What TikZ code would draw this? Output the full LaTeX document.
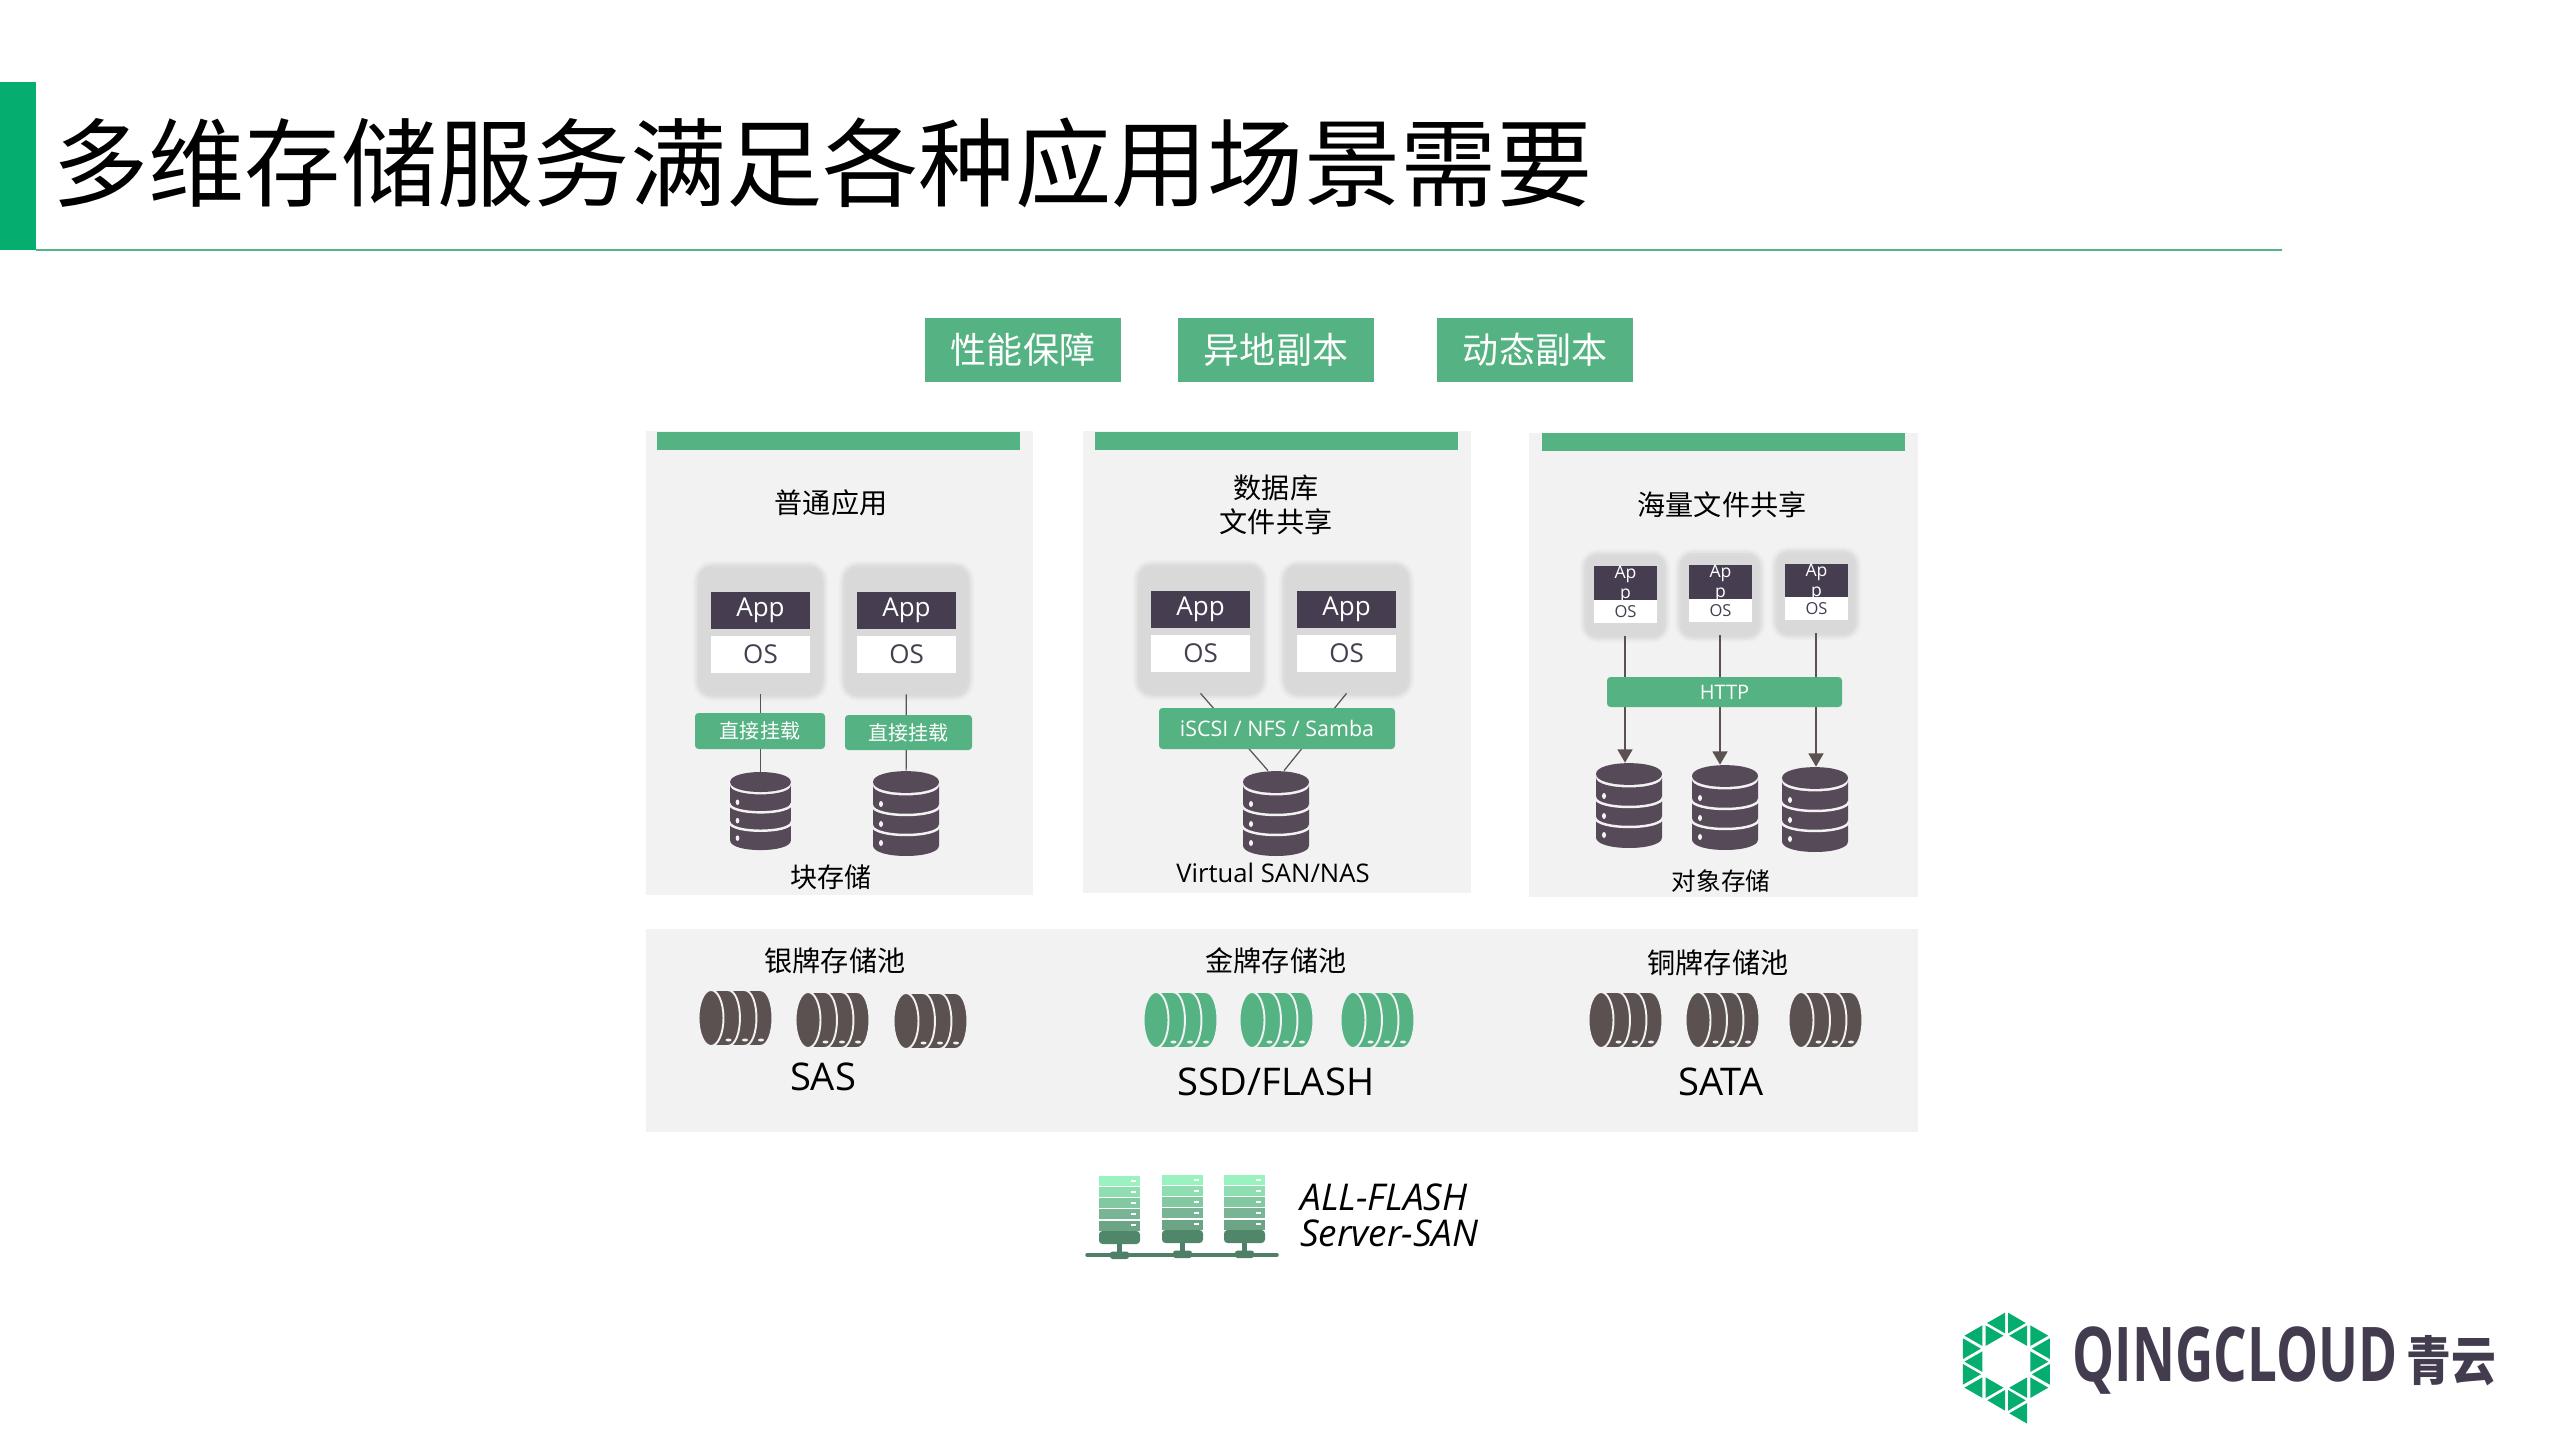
\documentclass[tikz,border=0pt]{standalone}
\usepackage{fontspec}
\setmainfont{Open Sans}
\newfontfamily\cjk{Noto Sans CJK SC}
\usetikzlibrary{arrows.meta,calc}

\definecolor{logogreen}{HTML}{05AD6E}
\definecolor{tagreen}{HTML}{55B283}
\definecolor{panelgray}{HTML}{F2F2F2}
\definecolor{vmgray}{HTML}{D9D9D9}
\definecolor{appdark}{HTML}{463E50}
\definecolor{dbdark}{HTML}{574A58}
\definecolor{diskdark}{HTML}{5A5150}
\definecolor{linkdark}{HTML}{5A5150}
\definecolor{logotext}{HTML}{433C4E}
\definecolor{srvbase}{HTML}{4F7F66}

\def\pxu{0.02cm}

\tikzset{
  cjktext/.style={inner sep=0pt, text=black, align=center, font=\cjk\fontsize{16}{19}\selectfont},
  latintext/.style={inner sep=0pt, text=black, font=\fontsize{14.6}{17}\selectfont},
  bigtext/.style={inner sep=0pt, text=black, font=\fontsize{21.7}{26}\selectfont},
  panelbox/.style={fill=panelgray, inner sep=0pt},
  stripbar/.style={fill=tagreen, inner sep=0pt, minimum width=363*\pxu, minimum height=18*\pxu},
  toptag/.style={fill=tagreen, text=white, inner sep=0pt, minimum width=196*\pxu, minimum height=64*\pxu,
    font=\cjk\fontsize{20.5}{24}\selectfont},
  linktag/.style={fill=tagreen, text=white, inner sep=0pt, rounded corners=2pt, font=\cjk\fontsize{11.4}{14}\selectfont},
  latintag/.style={linktag, font=\fontsize{12.2}{14}\selectfont},
  vmbox/.style={fill=vmgray, inner sep=0pt, rounded corners=7pt, minimum width=121*\pxu, minimum height=126*\pxu,
    preaction={draw=black, opacity=.025, line width=8pt},
    preaction={draw=black, opacity=.03, line width=5.5pt},
    preaction={draw=black, opacity=.04, line width=3pt}},
  vmsmall/.style={vmbox, rounded corners=6pt, minimum width=76*\pxu, minimum height=79*\pxu},
  appbox/.style={fill=appdark, text=white, inner sep=0pt, minimum width=99*\pxu, minimum height=37*\pxu,
    font=\fontsize{14.8}{17}\selectfont},
  osbox/.style={fill=white, text=appdark, inner sep=0pt, minimum width=99*\pxu, minimum height=37*\pxu,
    font=\fontsize{14.8}{17}\selectfont},
  appsmall/.style={appbox, align=center, minimum width=63*\pxu, minimum height=23*\pxu,
    font=\fontsize{10}{11.4}\selectfont},
  ossmall/.style={osbox, minimum width=63*\pxu, minimum height=23*\pxu, font=\fontsize{9.4}{11}\selectfont},
  dbbox/.style={inner sep=0pt},
  pics/dbicon/.style={code={
    \fill[dbdark] (-33,-31.5) .. controls (-33,-46) and (33,-46) .. (33,-31.5)
      .. controls (33,-17) and (-33,-17) .. cycle;
    \fill[dbdark] (-33,-28) .. controls (-33,-14.7) and (33,-14.7) .. (33,-28) -- (33,32)
      .. controls (33,46) and (-33,46) .. (-33,32) -- cycle;
    \draw[panelgray, line width=1.4pt] (-34,-8.5) .. controls (-34,4.8) and (34,4.8) .. (34,-8.5);
    \draw[panelgray, line width=1.4pt] (-34,11.5) .. controls (-34,24.8) and (34,24.8) .. (34,11.5);
    \foreach \ya in {-9.5,10.5,29.5}
      \fill[panelgray] (-25,\ya) circle [x radius=2, y radius=3];
  }},
  pics/diskicon/.style={code={
    \foreach \ra/\rb in {61/45,45/28.5,28.5/12} {
      \filldraw[fill=#1, draw=panelgray, line width=1.1pt] (\rb,0) -- (\ra,0)
        .. controls (\ra+16.6,0) and (\ra+16.6,56) .. (\ra,56) -- (\rb,56) -- cycle;
      \fill[panelgray] (\ra+1,50) circle [x radius=3, y radius=1.5];
    }
    \filldraw[fill=#1, draw=panelgray, line width=1.1pt] (12,28) circle [x radius=12.5, y radius=28];
  }},
  pics/srvicon/.style={code={
    \foreach \ya/\shade in {0/9BF2C1,11.3/8EDEB1,22.3/82C9A1,33.3/78B594,44.6/6BA585} {
      \definecolor{slotcol}{HTML}{\shade}
      \fill[slotcol] (0,\ya) rectangle (41,\ya+10);
      \fill[white] (32,\ya+3.5) rectangle (37,\ya+5.5);
    }
    \fill[srvbase!85!tagreen, rounded corners=2pt] (0,55) -- (41,55) -- (41,68) -- (0,68) -- cycle;
    \fill[srvbase] (18,68) rectangle (23,78);
    \fill[srvbase, rounded corners=1.5pt] (11,75.5) rectangle (30,83);
  }}
}

\newcommand{\storenode}[3]{
  \node[dbbox, minimum width=66*#3*\pxu, minimum height=85*#3*\pxu] (#1) at (#2) {};
  \pic[scale=#3] at (#1) {dbicon};
}

\begin{document}
\begin{tikzpicture}[x=\pxu, y=-\pxu]
\useasboundingbox (0,0) rectangle (2559,1439);

\fill[logogreen] (0,82) rectangle (36,250);
\coordinate (rulea) at (36,250);
\coordinate (ruleb) at (2282,250);
\draw[tagreen, line width=.9pt] (rulea) -- (ruleb);
\node[inner sep=0pt, anchor=west, text=black, font=\cjk\fontsize{54.8}{60}\selectfont] (title) at (52,163)
  {多维存储服务满足各种应用场景需要};

\node[toptag] (tag1) at (1023,350) {性能保障};
\node[toptag] (tag2) at (1276,350) {异地副本};
\node[toptag] (tag3) at (1535,350) {动态副本};

\node[panelbox, minimum width=387*\pxu, minimum height=464*\pxu] (pan1) at (839.5,663) {};
\node[panelbox, minimum width=388*\pxu, minimum height=462*\pxu] (pan2) at (1277,662) {};
\node[panelbox, minimum width=389*\pxu, minimum height=464*\pxu] (pan3) at (1723.5,665) {};
\node[panelbox, minimum width=1272*\pxu, minimum height=203*\pxu] (pan4) at (1282,1030.5) {};

\node[stripbar] (bar1) at (838.5,441) {};
\node[stripbar] (bar2) at (1276,440.5) {};
\node[stripbar] (bar3) at (1723.5,442) {};

\node[cjktext] (head1) at (831,503) {普通应用};
\node[cjktext] (head2) at (1276,505) {数据库\\文件共享};
\node[cjktext] (head3) at (1722,505) {海量文件共享};

% block storage
\node[vmbox] (vma) at (760.5,631) {};
\node[vmbox] (vmb) at (906.5,631) {};
\node[appbox] (appa) at (760.5,610.5) {App};
\node[osbox] (osa) at (760.5,654.5) {OS};
\node[appbox] (appb) at (906.5,610.5) {App};
\node[osbox] (osb) at (906.5,654.5) {OS};
\storenode{dba}{760.5,811}{.92}
\storenode{dbb}{906,813.5}{1}
\begin{scope}[linkdark, line width=.7pt]
  \draw (vma) -- (dba);
  \draw (vmb) -- (dbb);
\end{scope}
\node[linktag, minimum width=130*\pxu, minimum height=36*\pxu] (moa) at (760,731) {直接挂载};
\node[linktag, minimum width=127*\pxu, minimum height=35*\pxu] (mob) at (908.5,732.5) {直接挂载};
\node[cjktext, font=\cjk\fontsize{15.4}{18}\selectfont] (foot1) at (831,877) {块存储};

% virtual san
\node[vmbox] (vmc) at (1200.5,630) {};
\node[vmbox] (vmd) at (1346.5,630) {};
\node[appbox] (appc) at (1200.5,609.5) {App};
\node[osbox] (osc) at (1200.5,653.5) {OS};
\node[appbox] (appd) at (1346.5,609.5) {App};
\node[osbox] (osd) at (1346.5,653.5) {OS};
\storenode{dbc}{1276,813.5}{1}
\begin{scope}[linkdark, line width=.7pt]
  \draw (vmc.south) -- ($(dbc.north)+(-8,0)$);
  \draw (vmd.south) -- ($(dbc.north)+(8,0)$);
\end{scope}
\node[latintag, minimum width=236*\pxu, minimum height=41*\pxu] (mnt) at (1277,728.5) {iSCSI / NFS / Samba};
\node[latintext] (foot2) at (1273,873) {Virtual SAN/NAS};

% object storage
\node[vmsmall] (vme) at (1625,596) {};
\node[vmsmall] (vmf) at (1720,595.5) {};
\node[vmsmall] (vmg) at (1816,593.5) {};
\node[appsmall] (appe) at (1625.5,584) {Ap\\p};
\node[ossmall] (ose) at (1625.5,611.5) {OS};
\node[appsmall] (appf) at (1720.5,583) {Ap\\p};
\node[ossmall] (osf) at (1720.5,610.5) {OS};
\node[appsmall] (appg) at (1816.5,582) {Ap\\p};
\node[ossmall] (osg) at (1816.5,608.5) {OS};
\storenode{dbe}{1629,805.5}{1}
\storenode{dbf}{1725,807.5}{1}
\storenode{dbg}{1815,809.5}{1}
\begin{scope}[linkdark, line width=.9pt, -{Triangle[length=7.5pt,width=8.5pt]}]
  \draw (vme.south) -- (vme.south |- dbe.north);
  \draw (vmf.south) -- (vmf.south |- dbf.north);
  \draw (vmg.south) -- (vmg.south |- dbg.north);
\end{scope}
\node[linktag, font=\fontsize{11.4}{14}\selectfont, minimum width=235*\pxu, minimum height=30*\pxu] (http) at (1724.5,692) {HTTP};
\node[cjktext, font=\cjk\fontsize{14}{17}\selectfont] (foot3) at (1721,881) {对象存储};

% pools
\node[cjktext] (pool1) at (835,961) {银牌存储池};
\node[cjktext] (pool2) at (1276,961) {金牌存储池};
\node[cjktext] (pool3) at (1718,963) {铜牌存储池};
\node[bigtext] (kind1) at (823,1077) {SAS};
\node[bigtext] (kind2) at (1276,1082) {SSD/FLASH};
\node[bigtext] (kind3) at (1721,1082) {SATA};
\pic at (699,990) {diskicon=diskdark};
\pic at (796,992) {diskicon=diskdark};
\pic at (894,993) {diskicon=diskdark};
\pic at (1144,992) {diskicon=tagreen};
\pic at (1240,992) {diskicon=tagreen};
\pic at (1341,992) {diskicon=tagreen};
\pic at (1589,992) {diskicon=diskdark};
\pic at (1686,992) {diskicon=diskdark};
\pic at (1789,992) {diskicon=diskdark};

% server san
\coordinate (busa) at (1087,1255);
\coordinate (busb) at (1277,1255);
\draw[srvbase, line width=2pt, line cap=round] (busa) -- (busb);
\pic at (1099,1176) {srvicon};
\pic at (1162,1175) {srvicon};
\pic at (1224,1175) {srvicon};
\node[inner sep=0pt, anchor=west, text=black, font=\itshape\fontsize{21}{24}\selectfont] (flash) at (1300,1197) {ALL-FLASH};
\node[inner sep=0pt, anchor=west, text=black, font=\itshape\fontsize{21}{24}\selectfont] (sansrv) at (1300,1233) {Server-SAN};

% logo
\begin{scope}[shift={(1930,1290)}, xscale=.3827, yscale=.3333]
  \foreach \xa/\ya/\dx in {196/68/-47,204/68/46,137/106/-47,145/106/47,254/106/-47,262/106/47,
      86/145/47,137/184/-47,86/222/47,313/145/-47,262/184/47,313/222/-47,
      137/262/-47,145/262/47,254/262/-47,262/262/47,196/300/-46,204/300/46,254/339/-47}
    \fill[logogreen] (\xa,\ya) -- (\xa,\ya+62) -- (\xa+\dx,\ya+31) -- cycle;
\end{scope}
\node[inner sep=0pt, text=logotext, xscale=.70, transform shape, font=\bfseries\fontsize{43}{50}\selectfont] (brand) at (2235,1361) {QINGCLOUD};
\node[inner sep=0pt, text=logotext, xscale=.85, transform shape, font=\cjk\bfseries\fontsize{30}{34}\selectfont] (brandcn) at (2451,1361) {青云};

\end{tikzpicture}
\end{document}
